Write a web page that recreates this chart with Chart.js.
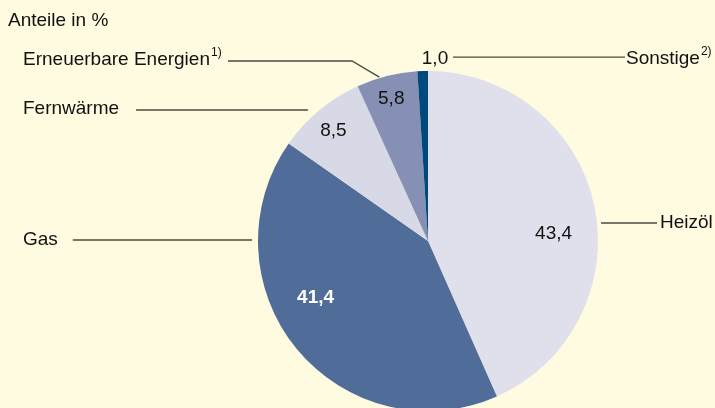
<!DOCTYPE html>
<html>
<head>
<meta charset="utf-8">
<script src="https://cdn.jsdelivr.net/npm/chart.js@4"></script>
<style>
  html, body { margin: 0; padding: 0; background: #fefbe0; overflow: hidden; }
  canvas { display: block; }
</style>
</head>
<body>
<canvas id="c" width="715" height="408"></canvas>
<script>
// ---- data ----
const categories = ["Heizöl", "Gas", "Fernwärme", "Erneuerbare Energien", "Sonstige"];
const superscripts = ["", "", "", "1)", "2)"];
const shares = [43.4, 41.4, 8.5, 5.8, 1.0];
const valueLabels = ["43,4", "41,4", "8,5", "5,8", "1,0"];
const title = "Anteile in %";

// ---- styles ----
const colors = ["#e0e0ec", "#506c98", "#d8d9e6", "#8690b4", "#00497f"];
const FONT = '"Liberation Sans", Arial, sans-serif';
const FS = 19;
const lineColor = "#4a4a42";

// value-label placement (polar, relative to each arc): angle offset in deg, radius fraction
const valuePlace = [
  { dAng: 8.8, rf: 0.74, color: "#111", bold: false },
  { dAng: 12.8, rf: 0.74, color: "#ffffff", bold: true },
  { dAng: -0.9, rf: 0.855, color: "#111", bold: false },
  { dAng: -0.5, rf: 0.862, color: "#111", bold: false },
  { dAng: 0, rf: 0, color: "#111", bold: false }
];

const labelsPlugin = {
  id: "labelsPlugin",
  beforeDraw(chart) {
    const ctx = chart.ctx;
    ctx.save();
    ctx.fillStyle = "#fefbe0";
    ctx.fillRect(0, 0, chart.width, chart.height);
    ctx.restore();
  },
  afterDraw(chart) {
    const ctx = chart.ctx;
    const meta = chart.getDatasetMeta(0);
    const arcs = meta.data;
    const cx = arcs[0].x, cy = arcs[0].y, R = arcs[0].outerRadius;
    const pt = (ang, r) => ({ x: cx + Math.cos(ang) * r, y: cy + Math.sin(ang) * r });
    const edgeX = (y, side) => cx + side * Math.sqrt(Math.max(R * R - (y - cy) * (y - cy), 0));
    const mid = a => (a.startAngle + a.endAngle) / 2;
    const deg = Math.PI / 180;

    ctx.save();
    ctx.textBaseline = "middle";
    // title
    ctx.fillStyle = "#111";
    ctx.font = FS + "px " + FONT;
    ctx.textAlign = "left";
    ctx.fillText(title, 8, 21);

    // value labels inside slices
    for (let i = 0; i < 4; i++) {
      const a = arcs[i], p = valuePlace[i];
      const q = pt(mid(a) + p.dAng * deg, R * p.rf);
      ctx.font = (p.bold ? "bold " : "") + FS + "px " + FONT;
      ctx.fillStyle = p.color;
      ctx.textAlign = "center";
      ctx.fillText(valueLabels[i], q.x, q.y);
    }

    const text = (s, x, y, align) => {
      ctx.font = FS + "px " + FONT;
      ctx.fillStyle = "#111";
      ctx.textAlign = align;
      ctx.fillText(s, x, y);
      return ctx.measureText(s).width;
    };
    const sup = (s, x, y) => {
      ctx.font = "12px " + FONT;
      ctx.fillStyle = "#111";
      ctx.textAlign = "left";
      ctx.fillText(s, x, y - 7);
    };
    ctx.strokeStyle = lineColor;
    ctx.lineWidth = 1.3;
    const line = pts => {
      ctx.beginPath();
      ctx.moveTo(pts[0].x, pts[0].y);
      for (let k = 1; k < pts.length; k++) ctx.lineTo(pts[k].x, pts[k].y);
      ctx.stroke();
    };

    // Heizöl (right)
    {
      const y = cy - 18;
      const x0 = edgeX(y, 1) + 4;
      text(categories[0], 660, y, "left");
      line([{ x: x0, y: y }, { x: 657, y: y }]);
    }
    // Gas (left)
    {
      const y = cy - 1;
      const w = text(categories[1], 23, y, "left");
      line([{ x: 23 + w + 15, y: y }, { x: edgeX(y, -1) - 6, y: y }]);
    }
    // Fernwärme
    {
      const y = 109;
      const w = text(categories[2], 23, y, "left");
      line([{ x: 23 + w + 17, y: y + 1 }, { x: edgeX(y, -1) - 13, y: y + 1 }]);
    }
    // Erneuerbare Energien
    {
      const y = 60;
      const w = text(categories[3], 23, y, "left");
      sup(superscripts[3], 23 + w + 1, y);
      const a = arcs[3];
      const e = pt(a.startAngle + 0.38 * (a.endAngle - a.startAngle), R + 1);
      line([{ x: 228, y: y + 1 }, { x: 352, y: y + 1 }, e]);
    }
    // Sonstige (outside label above)
    {
      const a = arcs[4];
      const top = pt(mid(a) + 4 * deg, R + 12);
      const y = top.y;
      text(valueLabels[4], top.x, y, "center");
      line([{ x: top.x + 18, y: y - 2 }, { x: 625, y: y - 2 }]);
      const w = text(categories[4], 626, y, "left");
      sup(superscripts[4], 626 + w + 1, y);
    }
    ctx.restore();
  }
};

new Chart(document.getElementById("c"), {
  type: "pie",
  data: {
    labels: categories,
    datasets: [{
      data: shares,
      backgroundColor: colors,
      borderWidth: 0,
      radius: 170,
      clip: false
    }]
  },
  options: {
    responsive: false,
    animation: false,
    events: [],
    layout: { padding: { left: 141, right: 0, top: 74, bottom: 0 } },
    plugins: { legend: { display: false }, tooltip: { enabled: false }, title: { display: false } }
  },
  plugins: [labelsPlugin]
});
</script>
</body>
</html>
